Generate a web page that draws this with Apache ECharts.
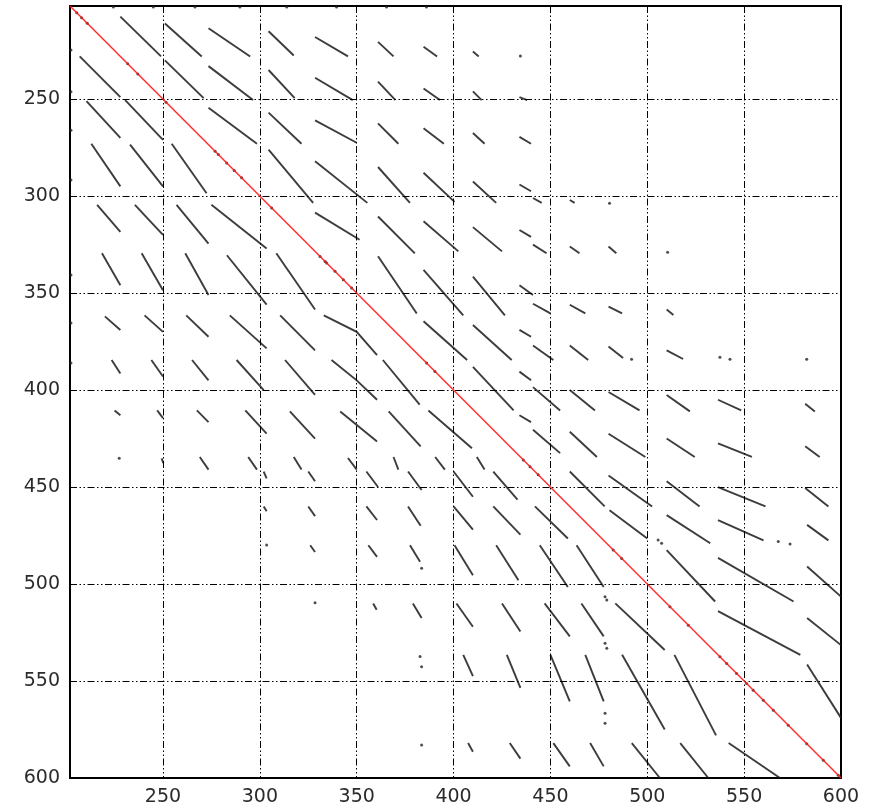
<!DOCTYPE html>
<html><head><meta charset="utf-8">
<script src="https://cdn.jsdelivr.net/npm/echarts@6/dist/echarts.min.js"></script>
<style>html,body{margin:0;padding:0;background:#fff}#c{width:871px;height:809px}</style>
</head><body><div id="c"></div>
<script>
const axisMin = 202, axisMax = 600;
const tickValues = [250, 300, 350, 400, 450, 500, 550, 600];
const gridValues = [250, 300, 350, 400, 450, 500, 550];
const diagonal = [[202, 202], [600, 600]];

// each segment: x1,y1,(xm,ym,)x2,y2 in data units
const segmentsTop = [
  [228,207.5,249,228],[251,211,270,228],[273.5,213.5,295,228],[304.5,215,317.5,227.5],[328.5,218,345.5,228],[361,220.5,369,228],[384.5,223,391.5,228],[410,225.5,413,228],
  [207,228,228,249],[251,230,271,249.5],[273.5,233,296.5,250.5],[304.5,235,318,249.5],[328.5,239,348,250.5],[361,241,370,250.5],[384.5,244.5,393,250.5],[410,246,414.5,250.5],[434,249,438,250.5],
  [210.5,251,228,270],[230.5,250.5,250,271],[273.5,254.5,298.5,273],[304.5,257,321.5,273],[328.5,261,350,272.5],[361,262.5,371.5,273],[384.5,265,395,273],[410,267.5,416,273],[434,269.5,440,273],
  [213,273,228,295],[233,273.5,250,295],[254.5,273,272.5,298.5],[304.5,276,327.5,303.5],[328.5,282,355.5,303.5],[361,285,377.5,303.5],[384.5,288,400.5,303],[410,292.5,422,303.5],[434,294,440,297.5],[441,301,445.5,303.5],[460,302,462.5,303.5],
  [216,304.5,228,318.5],[235.5,304.5,250,320],[257,304.5,273.5,324.5],[275,304.5,303.5,327],[328.5,308.5,351.5,322.5],[361,310.5,380,329.5],[384.5,313,402.5,328.5],[410,316,425,328.5],[434,317.5,440,321],[441,325,448,329.5],[460,326,465,329.5],[480,326,484,329.5]
];
const segmentsMiddle = [
  [218.5,329.5,228,346],[239,329.5,250,348.5],[261.5,329.5,273.5,351],[283,330.5,303.5,356],[308.5,329.5,328.5,358.5],[361,331,381,360.5],[384.5,338,405,361.5],[410,341.5,426.5,361.5],[434,346,441,351],[441,355.5,450,360.5],[460,356,468,360.5],[480,357,487,360.5],[510,358.5,513.5,361.3],
  [220,362,228,369],[240.5,361.5,250,370],[262,361.5,273.5,372.5],[284.5,361.5,303.5,378.5],[310.5,361.5,328.5,379.5],[333,361.5,350,370,360.5,382],[384.5,364.5,407,384.5],[410,366.5,430,384.5],[434,369,440,372.5],[441,377,451.5,384.5],[460,377,469.5,384.5],[480,377.5,487.5,383.5],[510,379.5,518.5,384],
  [223.5,384.5,228,391.5],[244,384.5,250,393],[265,384.5,273.5,395],[288,384.5,302,400],[313,384.5,328.5,402.5],[337,384.5,350,395,360.5,405],[363.5,384.5,382.5,407.5],[410,388,431,410.5],[434,390.5,440,395],[441,398.5,455,410.5],[460,400,473,410.5],[480,401,496,410.5],[510,402.5,522,411],[536.5,405,548.5,410.5],[581.5,407,586.5,411],
  [225,410.5,228,413],[247,410.5,250,414.5],[267.5,410.5,273.5,416.5],[292.5,410.5,303.5,422.5],[315.5,411,328.5,425],[341.5,411,360.5,426.5],[366.5,411,383,429],[387,410.5,409.5,430],[434,413,440,416.5],[441,420.5,455,432.5],[460,421.5,474,434.5],[480,422.5,499,434.5],[510,425,524.5,434.5],[536.5,427.5,554,434.5],[581.5,429,589,434.5],
  [249.3,435.2,250.2,437.7],[269,434.5,273.5,441],[294,434.5,298.5,441],[302,442,303.5,445.5],[317.5,434.5,321.5,441],[325,442,328.5,447],[345.5,435,350,441],[355,442,361,450],[369,434.5,371.5,441],[376.5,442,383.5,451.5],[390.5,434.5,395.5,441],[400,442,410,455],[412,434.5,416,441],[420.5,442,433,456.5],[460,442,478,460],[480,444,502.5,460],[510,447,527,460],[536.5,450,561,460],[581.5,450.5,593.5,460]
];
const segmentsBottom = [
  [302,460,303.5,462.5],[325,460,328.5,465],[355,460,360.5,467],[376.5,460,383,470],[400,460,410,472],[420.5,460,434.5,474.5],[442,460,459,476.5],[480.5,462,500,476.5],[510,464.5,532.5,479],[536.5,467,560,477.5],[582.5,469.5,593.5,477.5],
  [326,480,328.5,483.5],[356,480,360.5,486],[377.5,480,382.7,488.5],[400.5,480,410,495.5],[422,480,433.5,498],[444.5,480,459,501.5],[463.5,480,477.5,501.5],[510,482.5,535,509],[536.5,486.5,575.5,509],[582.5,491,600,506.5],
  [358.5,510,360.3,513.3],[379,510,383.5,517.5],[401.5,510,410,522],[425,510,434.5,524.5],[447,510,460,527],[466,510,477.5,527],[483.5,510,509,534],[536.5,514,579,536.5],[582.5,517.5,600,531.5],
  [405,536.5,410,547.5],[427.5,536.5,434.5,553.5],[450,536.5,460,560.5],[468,536.5,477.5,560.5],[487,536.5,509,575],[514,536.5,535.5,578],[582.5,541.5,600,569],
  [407.5,582,410,586.5],[429,582,434.5,590],[451.5,582,460,594],[470.5,582,477.5,594],[492,582,506.5,600],[517,582,531.5,600],[542,582,568.5,600]
];
const isolatedDots = [
  [434.5,227.8],[480.5,303.7],[510.5,329],[491.9,384.1],[537.5,383.1],[542.7,384.1],[582.3,384.1],[227.4,435.2],
  [505.6,477.3],[507.4,479],[567.6,478.1],[573.7,479.3],[303.5,479.9],[383.5,491.9],[478.2,506.5],[479.1,508.2],[328.5,509.7],
  [478.2,530.5],[479.1,533.1],[382.7,537.4],[383.5,542.6],[478.2,566.6],[478.2,571.8],[383.5,583],
  [224.4,202.5],[245,202.5],[266.5,202.5],[289.7,202.5],[313.9,202.5],[339.6,202.5],[365.4,202.5],[386,202.5],
  [202.5,224.7],[202.5,246.2],[202.5,266],[202.5,291.7],[202.5,340.7],[202.5,365.4],[202.5,386]
];
const diagonalDots = [205.5,208,210.9,231.8,237,251.6,276.9,278.6,282.9,286.8,290.6,306.1,331.1,333.7,334.5,338.8,343.1,347.4,386.1,390.4,436,439.5,443.7,482.4,486.8,511.7,521.2,537.5,541,546.1,551.3,554.7,559.9,565.1,572.8,582.3,590.9,598.6];

function toLine(seg) {
  const coords = [];
  for (let i = 0; i < seg.length; i += 2) coords.push([seg[i], seg[i + 1]]);
  return { coords: coords };
}
const allSegments = segmentsTop.concat(segmentsMiddle, segmentsBottom).map(toLine);

const gridStyle = { color: '#000', width: 1, type: [7, 2.5, 1.5, 2.5, 1.5, 2.5] };
const labelStyle = { fontFamily: 'DejaVu Sans', fontSize: 19, color: '#2b2b2b' };

const chart = echarts.init(document.getElementById('c'), null, { renderer: 'canvas' });
chart.setOption({
  animation: false,
  backgroundColor: '#fff',
  grid: { left: 70, top: 6, right: 30, bottom: 31, show: true, borderColor: '#000', borderWidth: 2, containLabel: false },
  xAxis: {
    type: 'value', min: axisMin, max: axisMax,
    axisLine: { show: false }, axisTick: { show: false }, splitLine: { show: false },
    axisLabel: Object.assign({ customValues: tickValues, margin: 10 }, labelStyle)
  },
  yAxis: {
    type: 'value', min: axisMin, max: axisMax, inverse: true,
    axisLine: { show: false }, axisTick: { show: false }, splitLine: { show: false },
    axisLabel: Object.assign({ customValues: tickValues, margin: 10 }, labelStyle)
  },
  series: [
    {
      type: 'scatter', data: [], z: 1, silent: true,
      markLine: {
        silent: true, symbol: ['none', 'none'], label: { show: false }, lineStyle: gridStyle,
        data: gridValues.map(v => ({ xAxis: v })).concat(gridValues.map(v => ({ yAxis: v })))
      }
    },
    {
      type: 'lines', coordinateSystem: 'cartesian2d', polyline: true, z: 3, silent: true,
      lineStyle: { color: '#1a1a1a', width: 1.9, opacity: 0.85 },
      data: allSegments
    },
    {
      type: 'scatter', z: 4, silent: true, symbolSize: 3,
      itemStyle: { color: '#222' },
      data: isolatedDots.concat(diagonalDots.map(v => [v, v]))
    },
    {
      type: 'line', z: 5, silent: true, symbol: 'none',
      lineStyle: { color: '#ff1a1a', width: 1.5, opacity: 0.9 },
      data: diagonal
    }
  ]
});
</script></body></html>
